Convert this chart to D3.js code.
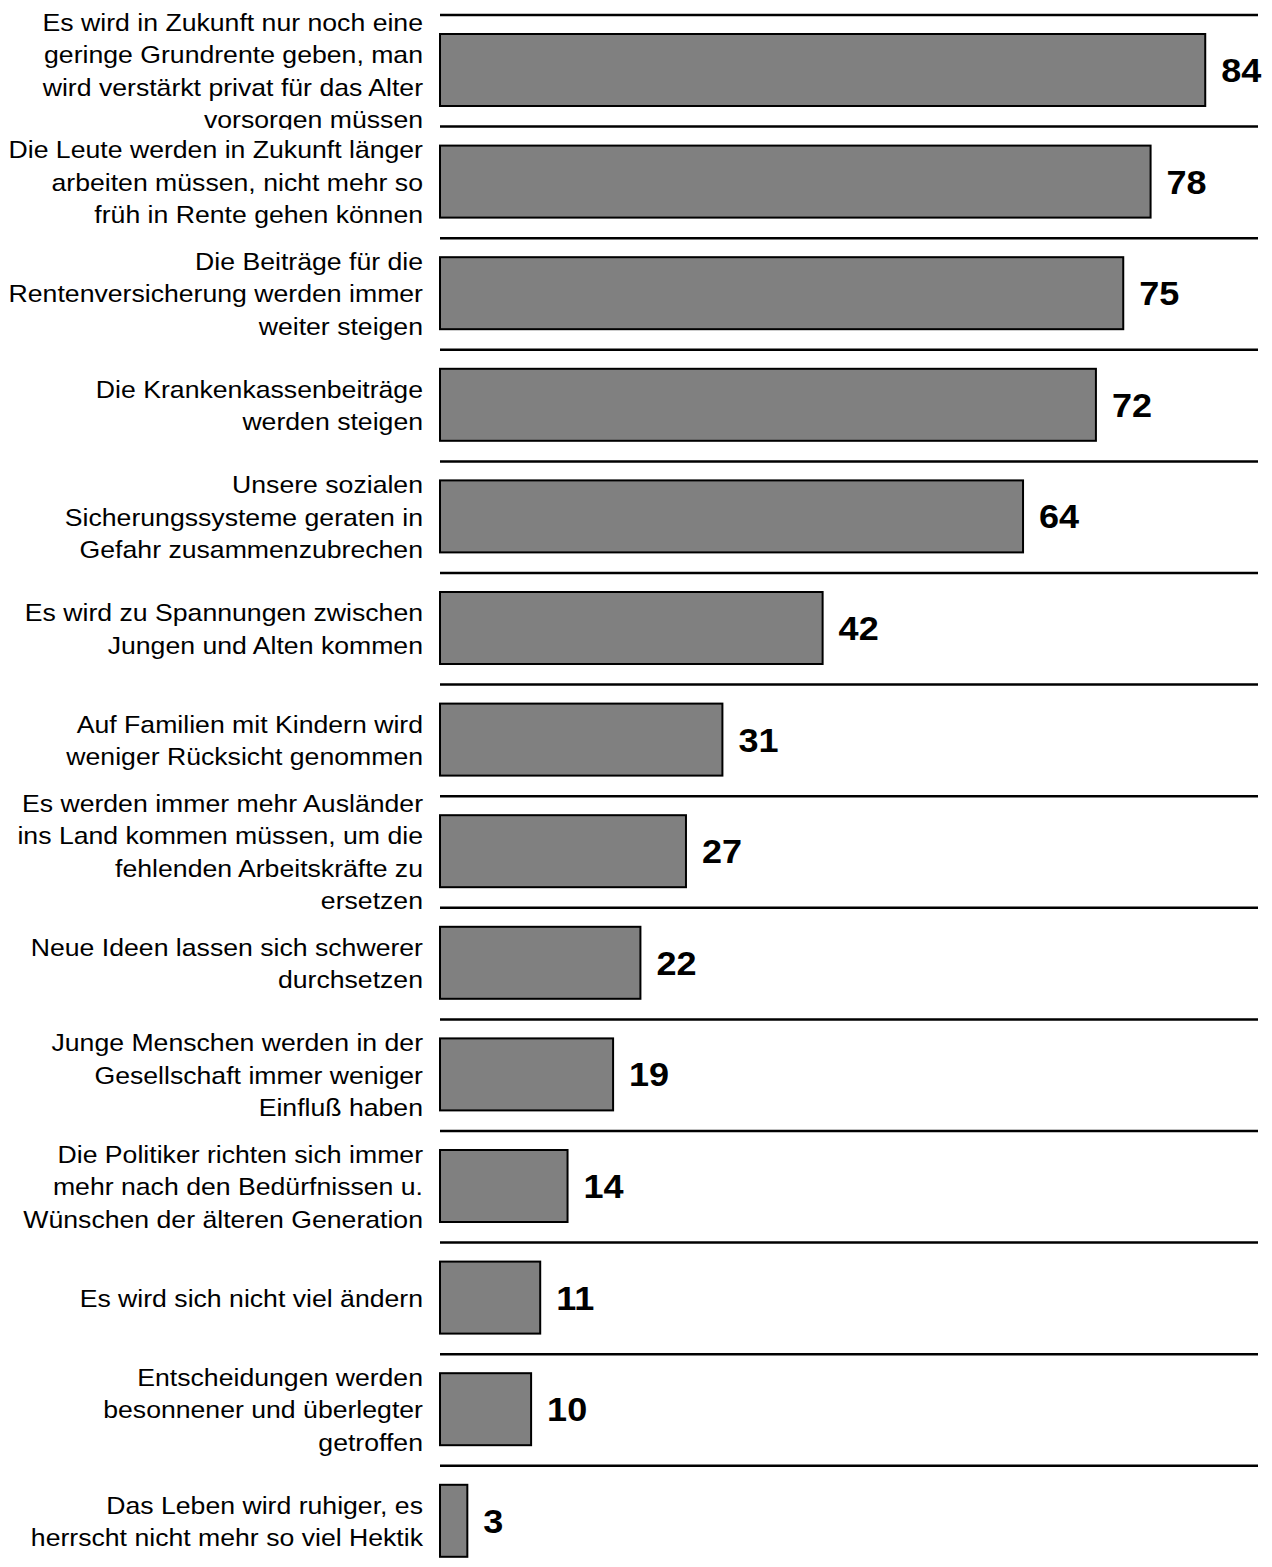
<!DOCTYPE html>
<html>
<head>
<meta charset="utf-8">
<script src="https://cdn.jsdelivr.net/npm/d3@7"></script>
<style>
  body { margin: 0; background: #fff; }
  svg { display: block; font-family: Arial, "Liberation Sans", sans-serif; }
</style>
</head>
<body>
<svg width="1272" height="1567"></svg>
<script>
// statements, line breaks as in the picture ("|" = new line)
const categories = [
  "Es wird in Zukunft nur noch eine|geringe Grundrente geben, man|wird verstärkt privat für das Alter|vorsorgen müssen",
  "Die Leute werden in Zukunft länger|arbeiten müssen, nicht mehr so|früh in Rente gehen können",
  "Die Beiträge für die|Rentenversicherung werden immer|weiter steigen",
  "Die Krankenkassenbeiträge|werden steigen",
  "Unsere sozialen|Sicherungssysteme geraten in|Gefahr zusammenzubrechen",
  "Es wird zu Spannungen zwischen|Jungen und Alten kommen",
  "Auf Familien mit Kindern wird|weniger Rücksicht genommen",
  "Es werden immer mehr Ausländer|ins Land kommen müssen, um die|fehlenden Arbeitskräfte zu|ersetzen",
  "Neue Ideen lassen sich schwerer|durchsetzen",
  "Junge Menschen werden in der|Gesellschaft immer weniger|Einfluß haben",
  "Die Politiker richten sich immer|mehr nach den Bedürfnissen u.|Wünschen der älteren Generation",
  "Es wird sich nicht viel ändern",
  "Entscheidungen werden|besonnener und überlegter|getroffen",
  "Das Leben wird ruhiger, es|herrscht nicht mehr so viel Hektik"
];
const values = [84, 78, 75, 72, 64, 42, 31, 27, 22, 19, 14, 11, 10, 3];

const svg = d3.select("svg");

const rowStep = 111.6;
const top0 = 15;
const x = d3.scaleLinear().domain([0, 100]).range([440, 1351]);
const rows = d3.scaleBand()
  .domain(d3.range(categories.length))
  .range([top0, top0 + rowStep * categories.length])
  .padding(0);
const barH = 72;
const barOff = 19;
const lineEnd = 1258;
const lineH = 32.5;
const labelRight = 423;
const stretch = 1.11;   // the source font is drawn a bit wider than Arial

// separators at the top of each row
svg.append("g").selectAll("line")
  .data(d3.range(categories.length))
  .enter().append("line")
    .attr("x1", x(0)).attr("x2", lineEnd)
    .attr("y1", i => rows(i)).attr("y2", i => rows(i))
    .attr("stroke", "#000").attr("stroke-width", 2.5);

// clip each label to its row (the first one gets cut a little)
const defs = svg.append("defs");
defs.selectAll("clipPath")
  .data(d3.range(categories.length))
  .enter().append("clipPath")
    .attr("id", i => "row" + i)
  .append("rect")
    .attr("x", 0).attr("width", x(0))
    .attr("y", i => rows(i) - 10)
    .attr("height", rowStep + 13);

const labels = svg.append("g").selectAll("g")
  .data(categories)
  .enter().append("g")
    .attr("clip-path", (d, i) => "url(#row" + i + ")")
  .append("text")
    .attr("transform", "translate(" + labelRight + ",0) scale(" + stretch + ",1)")
    .attr("text-anchor", "end")
    .attr("font-size", 24)
    .attr("fill", "#000");

labels.each(function(d, i) {
  const lines = d.split("|");
  const cy = rows(i) + rowStep / 2;
  const first = cy - (lines.length - 1) * lineH / 2 + 8.5;
  d3.select(this).selectAll("tspan")
    .data(lines)
    .enter().append("tspan")
      .attr("x", 0)
      .attr("y", (l, k) => first + k * lineH)
      .text(l => l);
});

// bars
svg.append("g").selectAll("rect")
  .data(values)
  .enter().append("rect")
    .attr("x", x(0))
    .attr("y", (d, i) => rows(i) + barOff)
    .attr("width", d => x(d) - x(0))
    .attr("height", barH)
    .attr("fill", "#808080")
    .attr("stroke", "#000")
    .attr("stroke-width", 2);

// value labels
svg.append("g").selectAll("text")
  .data(values)
  .enter().append("text")
    .attr("transform", (d, i) => "translate(" + (x(d) + 16) + "," + (rows(i) + barOff + barH / 2 + 12) + ") scale(1.06,1)")
    .attr("font-size", 34)
    .attr("font-weight", "bold")
    .attr("fill", "#000")
    .text(d => d);
</script>
</body>
</html>
